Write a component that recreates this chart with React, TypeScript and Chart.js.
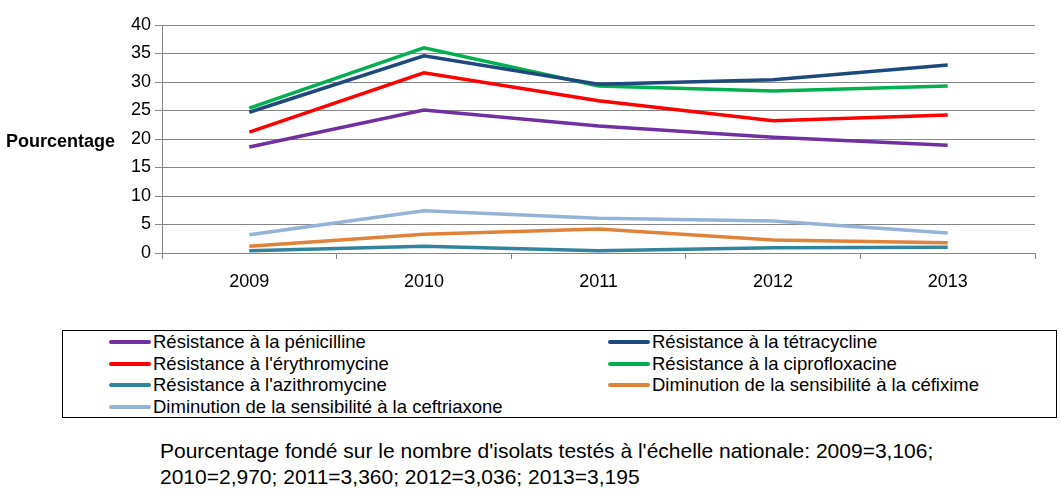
import React, { useEffect, useRef } from "react";
import { Chart, registerables } from "chart.js";

Chart.register(...registerables);

const categories = ["2009", "2010", "2011", "2012", "2013"];
const penicilline = [18.6, 25.1, 22.3, 20.3, 18.9];
const tetracycline = [24.7, 34.6, 29.6, 30.4, 33.0];
const erythromycine = [21.2, 31.6, 26.7, 23.2, 24.2];
const ciprofloxacine = [25.4, 36.0, 29.3, 28.4, 29.3];
const azithromycine = [0.4, 1.2, 0.4, 0.9, 1.0];
const cefixime = [1.2, 3.3, 4.2, 2.3, 1.8];
const ceftriaxone = [3.2, 7.4, 6.1, 5.6, 3.5];

const seriesLabels = [
  "Résistance à la pénicilline",
  "Résistance à la tétracycline",
  "Résistance à l'érythromycine",
  "Résistance à la ciprofloxacine",
  "Résistance à l'azithromycine",
  "Diminution de la sensibilité à la céfixime",
  "Diminution de la sensibilité à la ceftriaxone",
];
const seriesData = [penicilline, tetracycline, erythromycine, ciprofloxacine, azithromycine, cefixime, ceftriaxone];
const seriesColors = ["#7030A0", "#1F497D", "#FF0000", "#00B050", "#31849B", "#E0833A", "#95B3D7"];

const yTicks = [0, 5, 10, 15, 20, 25, 30, 35, 40];
const yTitle = "Pourcentage";
const note1 = "Pourcentage fondé sur le nombre d'isolats testés à l'échelle nationale: 2009=3,106;";
const note2 = "2010=2,970; 2011=3,360; 2012=3,036; 2013=3,195";

const FONT = "'Liberation Sans', Arial, sans-serif";

export default function App() {
  const ref = useRef<HTMLCanvasElement | null>(null);

  useEffect(() => {
    if (!ref.current) return;
    const chart = new Chart(ref.current, {
      type: "line",
      data: {
        labels: categories,
        datasets: seriesLabels.map((label, i) => ({
          label,
          data: seriesData[i],
          borderColor: seriesColors[i],
          backgroundColor: seriesColors[i],
          borderWidth: 3.5,
          pointRadius: 0,
          tension: 0,
          fill: false,
        })),
      },
      options: {
        animation: false,
        responsive: true,
        maintainAspectRatio: false,
        layout: { padding: { left: 0, right: 26, top: 25, bottom: 0 } },
        plugins: { legend: { display: false }, tooltip: { enabled: false } },
        scales: {
          x: {
            offset: true,
            grid: {
              offset: true,
              drawOnChartArea: false,
              color: "#868686",
              tickColor: "#868686",
              tickLength: 6,
            },
            border: { color: "#868686", width: 1 },
            ticks: { color: "#000", font: { family: FONT, size: 18 }, padding: 12 },
            afterFit: (s: any) => {
              s.height = 47;
            },
          },
          y: {
            min: yTicks[0],
            max: yTicks[yTicks.length - 1],
            afterBuildTicks: (s: any) => {
              s.ticks = yTicks.map((v) => ({ value: v }));
            },
            grid: { color: "#868686", tickColor: "#868686", tickLength: 7 },
            border: { color: "#868686", width: 1 },
            ticks: { color: "#000", font: { family: FONT, size: 18 }, padding: 4 },
            afterFit: (s: any) => {
              s.width = 162;
            },
          },
        },
      },
    });
    return () => chart.destroy();
  }, []);

  return (
    <div style={{ position: "absolute", left: 0, top: 0, width: 1061, height: 504, background: "#fff", fontFamily: FONT }}>
      <div style={{ position: "absolute", left: 0, top: 0, width: 1061, height: 300 }}>
        <canvas ref={ref} />
      </div>
      <div
        style={{
          position: "absolute",
          left: 6,
          top: 131,
          fontSize: 18,
          fontWeight: "bold",
          color: "#000",
        }}
      >
        {yTitle}
      </div>
      <div
        style={{
          position: "absolute",
          left: 62,
          top: 330,
          width: 995,
          height: 88,
          border: "1px solid #000",
          boxSizing: "border-box",
        }}
      >
        {seriesLabels.map((label, i) => {
          const col = i % 2;
          const row = Math.floor(i / 2);
          return (
            <div
              key={label}
              style={{
                position: "absolute",
                left: col === 0 ? 46 : 545,
                top: 1 + row * 21.7,
                height: 20,
                display: "flex",
                alignItems: "center",
                whiteSpace: "nowrap",
                fontSize: 18.5,
                color: "#000",
              }}
            >
              <span
                style={{
                  display: "inline-block",
                  width: 42,
                  height: 4,
                  background: seriesColors[i],
                  marginRight: 2,
                  borderRadius: 2,
                }}
              />
              {label}
            </div>
          );
        })}
      </div>
      <div style={{ position: "absolute", left: 160, top: 438, fontSize: 21, color: "#000", lineHeight: "26px" }}>
        <div>{note1}</div>
        <div>{note2}</div>
      </div>
    </div>
  );
}
